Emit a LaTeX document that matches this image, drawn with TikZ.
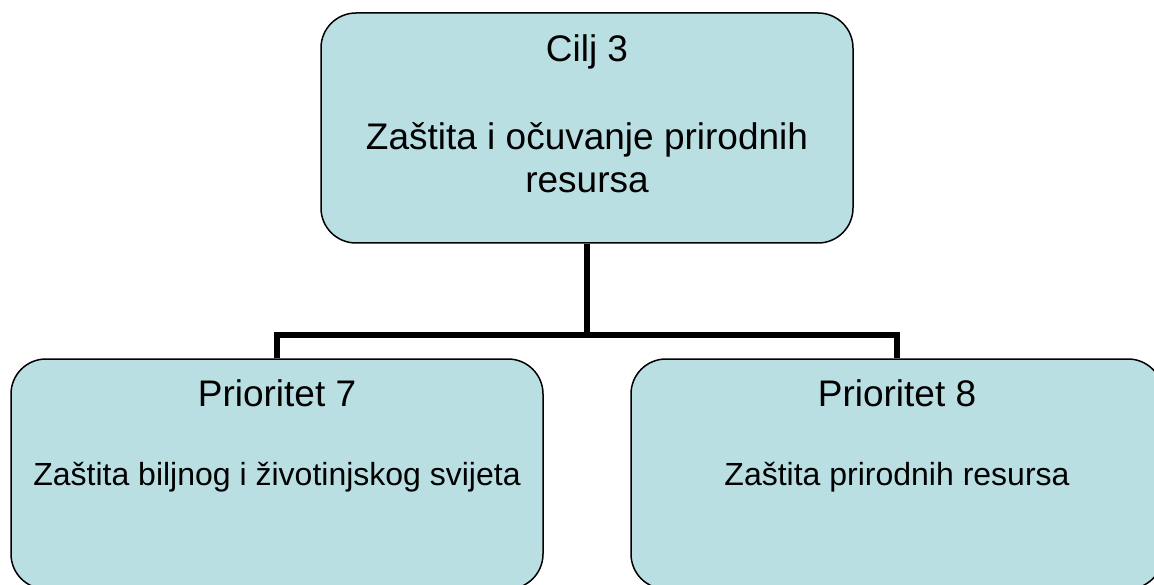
\documentclass[tikz,border=0pt]{standalone}
\usepackage{fontspec}
\setmainfont{Liberation Sans}
\usepackage{tikz}
\usepackage{xcolor}
\usetikzlibrary{positioning, calc}

\definecolor{boxblue}{RGB}{186,223,227}

\begin{document}
\begin{tikzpicture}[x=1pt, y=-1pt, line join=miter,
    box/.style = {draw, line width=1.5pt, fill=boxblue, rounded corners=35pt, minimum width=532pt, minimum height=230pt, inner sep=0pt},
    big/.style = {font=\fontsize{37}{43}\selectfont, align=center, inner sep=0pt},
    small/.style = {font=\fontsize{32}{38}\selectfont, align=center, inner sep=0pt},
    conn/.style = {line width=5.5pt}]
                    \useasboundingbox (0,0) rectangle (1154,585);
                    \clip (0,0) rectangle (1154,585);

                    % Nodes
                    \node[box] (cilj) at (587,128) {};
                    \node[box] (p7) at (277,474) {};
                    \node[box] (p8) at (897,474) {};

                    % Texts
                    \node[big] (ciljT) at (587,52) {Cilj 3};
                    \node[big] (ciljD) at (587,158) {Zaštita i očuvanje prirodnih\\resursa};
                    \node[big] (p7T) at (277,393) {Prioritet 7};
                    \node[small] (p7D) at (277,477) {Zaštita biljnog i životinjskog svijeta};
                    \node[big] (p8T) at (897,393) {Prioritet 8};
                    \node[small] (p8D) at (897,477) {Zaštita prirodnih resursa};

                    % Lines
                    \coordinate (bus) at (587,335);
                    \draw[conn] (cilj.south) -- (bus);
                    \draw[conn] (p7.north) |- (bus) -| (p8.north);
                \end{tikzpicture}
\end{document}
